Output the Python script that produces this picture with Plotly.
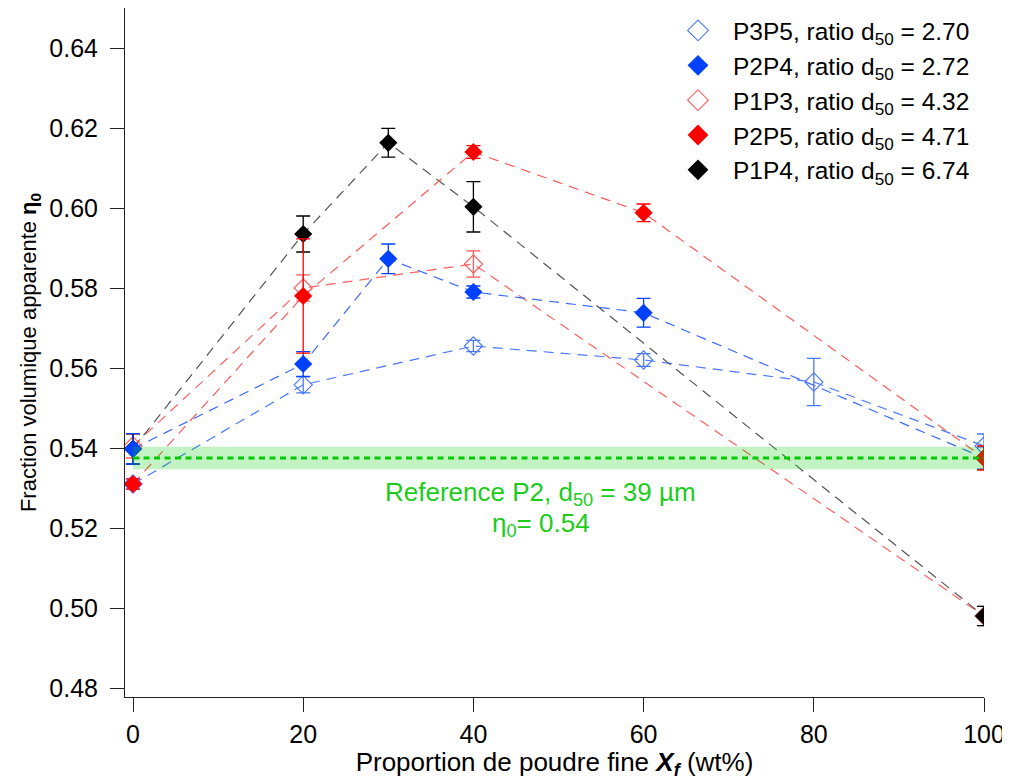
import plotly.graph_objects as go

# ---------------- data ----------------
x_p3p5 = [0, 20, 40, 60, 80, 100]
y_p3p5 = [0.5310, 0.5558, 0.5655, 0.5620, 0.5565, 0.5405]
e_p3p5 = [0.0013, 0.0020, 0.0014, 0.0016, 0.0059, 0.0030]

x_p2p4 = [0, 20, 30, 40, 60, 100]
y_p2p4 = [0.5398, 0.5610, 0.5873, 0.5790, 0.5738, 0.5375]
e_p2p4 = [0.0038, 0.0031, 0.0037, 0.0015, 0.0036, 0.0028]

x_p1p3 = [0, 20, 40, 100]
y_p1p3 = [0.5405, 0.5800, 0.5860, 0.4980]
e_p1p3 = [0.0030, 0.0033, 0.0033, 0.0024]

x_p2p5 = [0, 20, 40, 60, 100]
y_p2p5 = [0.5310, 0.5780, 0.6140, 0.5988, 0.5375]
e_p2p5 = [0.0013, 0.0143, 0.0016, 0.0022, 0.0030]

x_p1p4 = [0, 20, 30, 40, 100]
y_p1p4 = [0.5398, 0.5935, 0.6163, 0.6003, 0.4980]
e_p1p4 = [0.0038, 0.0045, 0.0036, 0.0063, 0.0024]

ref_value = 0.5375
ref_err = 0.0028

x_ticks = [0, 20, 40, 60, 80, 100]
y_ticks = [0.48, 0.50, 0.52, 0.54, 0.56, 0.58, 0.60, 0.62, 0.64]

names = ["P3P5, ratio d<sub>50</sub> = 2.70",
         "P2P4, ratio d<sub>50</sub> = 2.72",
         "P1P3, ratio d<sub>50</sub> = 4.32",
         "P2P5, ratio d<sub>50</sub> = 4.71",
         "P1P4, ratio d<sub>50</sub> = 6.74"]

FONT = "Liberation Sans, Arial, sans-serif"

# drawing order bottom -> top
series = [
    # x, y, err, name, marker color, line color, open?, legendrank
    (x_p1p3, y_p1p3, e_p1p3, names[2], "#ff5a5a", "#ff6060", True, 3),
    (x_p3p5, y_p3p5, e_p3p5, names[0], "#4a78ff", "#4a78ff", True, 1),
    (x_p1p4, y_p1p4, e_p1p4, names[4], "#000000", "#555555", False, 5),
    (x_p2p4, y_p2p4, e_p2p4, names[1], "#0040ff", "#3a6aff", False, 2),
    (x_p2p5, y_p2p5, e_p2p5, names[3], "#ff0000", "#ff5a5a", False, 4),
]


def make_marker(color, is_open, size):
    if is_open:
        return dict(symbol="diamond-open", size=size, color=color,
                    line=dict(color=color, width=1.1))
    return dict(symbol="diamond", size=size, color=color,
                line=dict(color=color, width=0))


fig = go.Figure()

# dashed connecting lines (below markers)
for xs, ys, es, nm, mc, lc, op, rk in series:
    fig.add_trace(go.Scatter(x=xs, y=ys, mode="lines", showlegend=False,
                             line=dict(color=lc, width=1.2, dash="10px,7px"),
                             hoverinfo="skip"))

# markers with error bars
for xs, ys, es, nm, mc, lc, op, rk in series:
    fig.add_trace(go.Scatter(
        x=xs, y=ys, mode="markers", name=nm, showlegend=False,
        marker=make_marker(mc, op, 14),
        error_y=dict(type="data", array=es, visible=True, color=mc,
                     thickness=1.3, width=7),
    ))

# legend entries (larger symbols as in the reference legend)
for xs, ys, es, nm, mc, lc, op, rk in series:
    fig.add_trace(go.Scatter(
        x=[None], y=[None], mode="markers", name=nm, legendrank=rk,
        marker=make_marker(mc, op, 19), showlegend=True,
    ))

# reference band and dotted line
fig.add_shape(type="rect", xref="x", yref="y", x0=0, x1=100,
              y0=ref_value - ref_err, y1=ref_value + ref_err,
              fillcolor="rgba(0,200,0,0.235)", line=dict(width=0), layer="above")
fig.add_shape(type="line", xref="x", yref="y", x0=0, x1=100,
              y0=ref_value, y1=ref_value,
              line=dict(color="#00cc00", width=3, dash="6px,4.5px"), layer="above")

fig.add_annotation(x=47.9, y=0.52875, xref="x", yref="y",
                   text="Reference P2, d<sub>50</sub> = 39 µm",
                   showarrow=False, font=dict(family=FONT, size=26, color="#1ccc1c"))
fig.add_annotation(x=47.9, y=0.52100, xref="x", yref="y",
                   text="η<sub>0</sub>= 0.54",
                   showarrow=False, font=dict(family=FONT, size=26, color="#1ccc1c"))

fig.update_layout(
    width=1002, height=772,
    margin=dict(l=117, r=26, t=0, b=83),
    plot_bgcolor="white", paper_bgcolor="white",
    font=dict(family=FONT, size=25, color="black"),
    showlegend=True,
    legend=dict(x=0.6263, y=1.0, xanchor="left", yanchor="top",
                font=dict(family=FONT, size=24.5), bgcolor="rgba(0,0,0,0)",
                tracegroupgap=0, itemwidth=60),
    xaxis=dict(range=[-0.94, 100], tickvals=x_ticks,
               showgrid=False, zeroline=False, showline=True,
               linecolor="#222222", linewidth=1, automargin=False,
               ticks="outside", ticklen=14, tickcolor="#222222",
               ticklabelstandoff=1,
               tickfont=dict(family=FONT, size=25),
               title=dict(text="Proportion de poudre fine <b><i>X<sub>f</sub></i></b> (wt%)",
                          font=dict(family=FONT, size=26), standoff=4)),
    yaxis=dict(range=[0.47775, 0.650], tickvals=y_ticks, tickformat=".2f",
               showgrid=False, zeroline=False, showline=True,
               linecolor="#222222", linewidth=1, automargin=False,
               ticks="outside", ticklen=14, tickcolor="#222222",
               ticklabelstandoff=7,
               tickfont=dict(family=FONT, size=25),
               title=dict(text="Fraction volumique apparente <b>η<sub>0</sub></b>",
                          font=dict(family=FONT, size=22), standoff=6)),
)

fig.write_html("out.html")
